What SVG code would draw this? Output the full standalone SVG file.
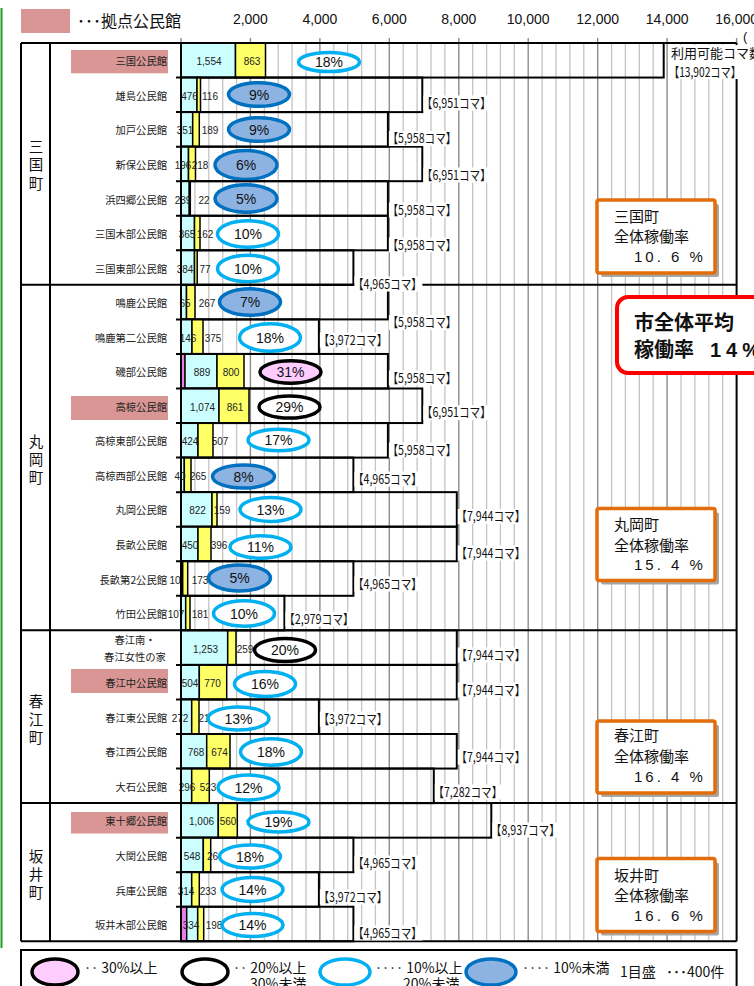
<svg xmlns="http://www.w3.org/2000/svg" width="754" height="986" viewBox="0 0 754 986">
<style>
.jp{font-family:"Noto Sans CJK JP","Liberation Sans",sans-serif;fill:#111}
.num{font-family:"Liberation Sans","Noto Sans CJK JP",sans-serif;fill:#111}
.g1{stroke:#c4c4c4;stroke-width:1.3;fill:none}
.g2{stroke:#8c8c8c;stroke-width:1.4;fill:none}
.cy{fill:#ccffff;stroke:#000;stroke-width:1.5}
.ye{fill:#ffff66;stroke:#000;stroke-width:1.5}
.pk{fill:#e87ee8;stroke:#000;stroke-width:1}
.bx{fill:none;stroke:#000;stroke-width:2}
.ln{fill:none;stroke:#000;stroke-width:2}
.eL{fill:#fff;stroke:#00b0f0;stroke-width:3.5}
.eD{fill:#8db3e2;stroke:#0070c0;stroke-width:3.5}
.eB{fill:#fff;stroke:#000;stroke-width:3.5}
.eP{fill:#ffccff;stroke:#000;stroke-width:3.5}
.v{font-family:"Liberation Sans",sans-serif;font-size:10px;text-anchor:middle;fill:#222}
.p{font-family:"Liberation Sans",sans-serif;font-size:14px;text-anchor:middle;fill:#111}
.n{font-family:"Noto Sans CJK JP",sans-serif;font-size:10.3px;text-anchor:end;fill:#222}
.cap{font-family:"Noto Sans CJK JP",sans-serif;font-size:13px;fill:#111}
.cbg{fill:#fff}
.ax{font-family:"Liberation Sans",sans-serif;font-size:14px;text-anchor:middle;fill:#111}
.town{font-family:"Noto Sans CJK JP",sans-serif;font-size:14.5px;text-anchor:middle;fill:#111}
.hub{fill:#d99694}
.sb{fill:#fff;stroke:#e46c0a;stroke-width:3.5}
.sh{fill:#a6a6a6}
.st{font-family:"Noto Sans CJK JP",sans-serif;font-size:15px;fill:#111}
.sp{font-family:"Liberation Sans",sans-serif;font-size:15px;letter-spacing:3px;fill:#111}
.lg{font-family:"Noto Sans CJK JP",sans-serif;font-size:14px;fill:#111}
</style>
<rect width="754" height="986" fill="#fff"/>
<line x1="1.5" y1="8" x2="1.5" y2="948" stroke="#1e9e1e" stroke-width="2"/>

<g id="legend-top">
<rect class="hub" x="21" y="9" width="49" height="24"/>
<text class="jp" x="77" y="27" font-size="16">･･･拠点公民館</text>
</g>

<g id="axis-labels">
<text class="ax" x="250.4" y="24">2,000</text>
<text class="ax" x="319.9" y="24">4,000</text>
<text class="ax" x="389.3" y="24">6,000</text>
<text class="ax" x="458.8" y="24">8,000</text>
<text class="ax" x="528.2" y="24">10,000</text>
<text class="ax" x="597.7" y="24">12,000</text>
<text class="ax" x="667.1" y="24">14,000</text>
<text class="ax" x="736.6" y="24">16,000</text>
<text class="num" x="743" y="41" font-size="13">(</text>
</g>

<g id="grid">
<path class="g1" d="M194.9 43V941M208.8 43V941M222.7 43V941M236.6 43V941M264.3 43V941M278.2 43V941M292.1 43V941M306 43V941M333.8 43V941M347.7 43V941M361.6 43V941M375.4 43V941M403.2 43V941M417.1 43V941M431 43V941M444.9 43V941M472.7 43V941M486.6 43V941M500.4 43V941M514.3 43V941M542.1 43V941M556 43V941M569.9 43V941M583.8 43V941M611.6 43V941M625.4 43V941M639.3 43V941M653.2 43V941M681 43V941M694.9 43V941M708.8 43V941M722.7 43V941"/>
<path class="g2" d="M250.4 38V941M319.9 38V941M389.3 38V941M458.8 38V941M528.2 38V941M597.7 38V941M667.1 38V941M736.6 38V43M181 38V43"/>
<path class="ln" stroke-width="1.5" d="M176 77.55H181M176 112.1H181M176 146.65H181M176 181.2H181M176 215.75H181M176 250.3H181M176 319.4H181M176 353.95H181M176 388.5H181M176 423.05H181M176 457.6H181M176 492.15H181M176 526.7H181M176 561.25H181M176 595.8H181M176 664.9H181M176 699.45H181M176 734H181M176 768.55H181M176 837.65H181M176 872.2H181M176 906.75H181"/>
</g>

<g id="row-0">
<rect class="cy" x="181" y="43" width="54.5" height="34.55"/>
<rect class="ye" x="235.5" y="43" width="30" height="34.55"/>
<rect class="bx" x="181" y="43" width="482.7" height="34.55"/>
<text class="v" x="209" y="65.3">1,554</text><text class="v" x="252" y="65.3">863</text>
<ellipse class="eL" cx="329" cy="62" rx="30.5" ry="9.6"/><text class="p" x="329" y="67">18%</text>
</g>
<g id="row-1">
<rect class="cy" x="181" y="77.55" width="16" height="34.55"/>
<rect class="ye" x="197" y="77.55" width="3.5" height="34.55"/>
<rect class="bx" x="181" y="77.55" width="241.3" height="34.55"/>
<text class="v" x="189.5" y="99.8">476</text><text class="v" x="210" y="99.8">116</text>
<ellipse class="eD" cx="259" cy="94.5" rx="30.5" ry="11.8"/><text class="p" x="259" y="99.5">9%</text>
</g>
<g id="row-2">
<rect class="cy" x="181" y="112.1" width="11.7" height="34.55"/>
<rect class="ye" x="192.7" y="112.1" width="6.6" height="34.55"/>
<rect class="bx" x="181" y="112.1" width="206.9" height="34.55"/>
<text class="v" x="185" y="134.4">351</text><text class="v" x="210" y="134.4">189</text>
<ellipse class="eD" cx="259" cy="129.5" rx="30.5" ry="11.8"/><text class="p" x="259" y="134.5">9%</text>
</g>
<g id="row-3">
<rect class="cy" x="181" y="146.65" width="7.5" height="34.55"/>
<rect class="ye" x="188.5" y="146.65" width="7" height="34.55"/>
<rect class="bx" x="181" y="146.65" width="241.3" height="34.55"/>
<text class="v" x="183" y="168.9">196</text><text class="v" x="200" y="168.9">218</text>
<ellipse class="eD" cx="246" cy="165" rx="31" ry="14.5"/><text class="p" x="246" y="170">6%</text>
</g>
<g id="row-4">
<rect class="cy" x="181" y="181.2" width="8.3" height="34.55"/>
<rect class="ye" x="189.3" y="181.2" width="1" height="34.55"/>
<rect class="bx" x="181" y="181.2" width="206.9" height="34.55"/>
<text class="v" x="183" y="203.5">239</text><text class="v" x="204" y="203.5">22</text>
<ellipse class="eD" cx="246" cy="198.5" rx="31" ry="13.7"/><text class="p" x="246" y="203.5">5%</text>
</g>
<g id="row-5">
<rect class="cy" x="181" y="215.75" width="13.5" height="34.55"/>
<rect class="ye" x="194.5" y="215.75" width="5.5" height="34.55"/>
<rect class="bx" x="181" y="215.75" width="206.9" height="34.55"/>
<text class="v" x="187" y="238">365</text><text class="v" x="205" y="238">162</text>
<ellipse class="eL" cx="248" cy="234" rx="30.5" ry="13.2"/><text class="p" x="248" y="239">10%</text>
</g>
<g id="row-6">
<rect class="cy" x="181" y="250.3" width="13.5" height="34.55"/>
<rect class="ye" x="194.5" y="250.3" width="2.7" height="34.55"/>
<rect class="bx" x="181" y="250.3" width="172.4" height="34.55"/>
<text class="v" x="185" y="272.6">384</text><text class="v" x="205" y="272.6">77</text>
<ellipse class="eL" cx="248" cy="268.5" rx="30.5" ry="13.2"/><text class="p" x="248" y="273.5">10%</text>
</g>
<g id="row-7">
<rect class="cy" x="181" y="284.85" width="5.5" height="34.55"/>
<rect class="ye" x="186.5" y="284.85" width="8.5" height="34.55"/>
<rect class="bx" x="181" y="284.85" width="206.9" height="34.55"/>
<text class="v" x="185" y="307.1">65</text><text class="v" x="207" y="307.1">267</text>
<ellipse class="eD" cx="250" cy="302" rx="30.5" ry="13.2"/><text class="p" x="250" y="307">7%</text>
</g>
<g id="row-8">
<rect class="cy" x="181" y="319.4" width="11" height="34.55"/>
<rect class="ye" x="192" y="319.4" width="11" height="34.55"/>
<rect class="bx" x="181" y="319.4" width="137.9" height="34.55"/>
<text class="v" x="188" y="341.7">146</text><text class="v" x="213" y="341.7">375</text>
<ellipse class="eL" cx="270" cy="337.5" rx="30.5" ry="13.7"/><text class="p" x="270" y="342.5">18%</text>
</g>
<g id="row-9">
<rect class="pk" x="181" y="353.95" width="4" height="34.55"/>
<rect class="cy" x="185" y="353.95" width="32" height="34.55"/>
<rect class="ye" x="217" y="353.95" width="27" height="34.55"/>
<rect class="bx" x="181" y="353.95" width="206.9" height="34.55"/>
<text class="v" x="202" y="376.2">889</text><text class="v" x="231" y="376.2">800</text>
<ellipse class="eP" cx="290.5" cy="372" rx="30.5" ry="11.2"/><text class="p" x="290.5" y="377">31%</text>
</g>
<g id="row-10">
<rect class="cy" x="181" y="388.5" width="38" height="34.55"/>
<rect class="ye" x="219" y="388.5" width="30" height="34.55"/>
<rect class="bx" x="181" y="388.5" width="241.3" height="34.55"/>
<text class="v" x="202.5" y="410.8">1,074</text><text class="v" x="235" y="410.8">861</text>
<ellipse class="eB" cx="289.5" cy="407" rx="30.5" ry="11.1"/><text class="p" x="289.5" y="412">29%</text>
</g>
<g id="row-11">
<rect class="cy" x="181" y="423.05" width="17" height="34.55"/>
<rect class="ye" x="198" y="423.05" width="15" height="34.55"/>
<rect class="bx" x="181" y="423.05" width="206.9" height="34.55"/>
<text class="v" x="190" y="445.3">424</text><text class="v" x="220" y="445.3">507</text>
<ellipse class="eL" cx="278.5" cy="440" rx="30.5" ry="10.8"/><text class="p" x="278.5" y="445">17%</text>
</g>
<g id="row-12">
<rect class="cy" x="181" y="457.6" width="3.3" height="34.55"/>
<rect class="ye" x="184.3" y="457.6" width="6.7" height="34.55"/>
<rect class="bx" x="181" y="457.6" width="172.4" height="34.55"/>
<text class="v" x="180" y="479.9">40</text><text class="v" x="198" y="479.9">265</text>
<ellipse class="eD" cx="243.5" cy="476.5" rx="31" ry="11.6"/><text class="p" x="243.5" y="481.5">8%</text>
</g>
<g id="row-13">
<rect class="cy" x="181" y="492.15" width="31" height="34.55"/>
<rect class="ye" x="212" y="492.15" width="5" height="34.55"/>
<rect class="bx" x="181" y="492.15" width="275.8" height="34.55"/>
<text class="v" x="197.5" y="514.4">822</text><text class="v" x="222" y="514.4">159</text>
<ellipse class="eL" cx="270.5" cy="509.5" rx="30.5" ry="11.9"/><text class="p" x="270.5" y="514.5">13%</text>
</g>
<g id="row-14">
<rect class="cy" x="181" y="526.7" width="17" height="34.55"/>
<rect class="ye" x="198" y="526.7" width="13" height="34.55"/>
<rect class="bx" x="181" y="526.7" width="275.8" height="34.55"/>
<text class="v" x="190" y="549">450</text><text class="v" x="219" y="549">396</text>
<ellipse class="eL" cx="260.5" cy="547" rx="30.5" ry="11.2"/><text class="p" x="260.5" y="552">11%</text>
</g>
<g id="row-15">
<rect class="cy" x="181" y="561.25" width="1.7" height="34.55"/>
<rect class="ye" x="182.7" y="561.25" width="5" height="34.55"/>
<rect class="bx" x="181" y="561.25" width="172.4" height="34.55"/>
<text class="v" x="175" y="583.5">10</text><text class="v" x="200" y="583.5">173</text>
<ellipse class="eD" cx="239.5" cy="578" rx="31" ry="12.9"/><text class="p" x="239.5" y="583">5%</text>
</g>
<g id="row-16">
<rect class="cy" x="181" y="595.8" width="4.7" height="34.55"/>
<rect class="ye" x="185.7" y="595.8" width="4.3" height="34.55"/>
<rect class="bx" x="181" y="595.8" width="103.4" height="34.55"/>
<text class="v" x="176" y="618.1">107</text><text class="v" x="200" y="618.1">181</text>
<ellipse class="eL" cx="244" cy="613.5" rx="30.5" ry="12.7"/><text class="p" x="244" y="618.5">10%</text>
</g>
<g id="row-17">
<rect class="cy" x="181" y="630.35" width="46.7" height="34.55"/>
<rect class="ye" x="227.7" y="630.35" width="8.3" height="34.55"/>
<rect class="bx" x="181" y="630.35" width="275.8" height="34.55"/>
<text class="v" x="205.5" y="652.6">1,253</text><text class="v" x="245" y="652.6">259</text>
<ellipse class="eB" cx="285" cy="650" rx="30.5" ry="11.6"/><text class="p" x="285" y="655">20%</text>
</g>
<g id="row-18">
<rect class="cy" x="181" y="664.9" width="18.3" height="34.55"/>
<rect class="ye" x="199.3" y="664.9" width="27.4" height="34.55"/>
<rect class="bx" x="181" y="664.9" width="275.8" height="34.55"/>
<text class="v" x="190" y="687.2">504</text><text class="v" x="212.5" y="687.2">770</text>
<ellipse class="eL" cx="265" cy="684" rx="30.5" ry="12.4"/><text class="p" x="265" y="689">16%</text>
</g>
<g id="row-19">
<rect class="cy" x="181" y="699.45" width="10.7" height="34.55"/>
<rect class="ye" x="191.7" y="699.45" width="7.3" height="34.55"/>
<rect class="bx" x="181" y="699.45" width="137.9" height="34.55"/>
<text class="v" x="180" y="721.7">272</text><text class="v" x="198.5" y="721.7" style="text-anchor:start">21</text>
<ellipse class="eL" cx="238.5" cy="718.5" rx="30.5" ry="11.6"/><text class="p" x="238.5" y="723.5">13%</text>
</g>
<g id="row-20">
<rect class="cy" x="181" y="734" width="25.7" height="34.55"/>
<rect class="ye" x="206.7" y="734" width="23.3" height="34.55"/>
<rect class="bx" x="181" y="734" width="275.8" height="34.55"/>
<text class="v" x="196" y="756.3">768</text><text class="v" x="219.5" y="756.3">674</text>
<ellipse class="eL" cx="271" cy="752" rx="30.5" ry="13.2"/><text class="p" x="271" y="757">18%</text>
</g>
<g id="row-21">
<rect class="cy" x="181" y="768.55" width="10.7" height="34.55"/>
<rect class="ye" x="191.7" y="768.55" width="17.6" height="34.55"/>
<rect class="bx" x="181" y="768.55" width="252.8" height="34.55"/>
<text class="v" x="187" y="790.8">296</text><text class="v" x="208" y="790.8">523</text>
<ellipse class="eL" cx="248.5" cy="787.5" rx="30.5" ry="12.4"/><text class="p" x="248.5" y="792.5">12%</text>
</g>
<g id="row-22">
<rect class="cy" x="181" y="803.1" width="37.3" height="34.55"/>
<rect class="ye" x="218.3" y="803.1" width="19" height="34.55"/>
<rect class="bx" x="181" y="803.1" width="310.3" height="34.55"/>
<text class="v" x="201.5" y="825.4">1,006</text><text class="v" x="228" y="825.4">560</text>
<ellipse class="eL" cx="278.5" cy="822" rx="30.5" ry="9.9"/><text class="p" x="278.5" y="827">19%</text>
</g>
<g id="row-23">
<rect class="cy" x="181" y="837.65" width="22.3" height="34.55"/>
<rect class="ye" x="203.3" y="837.65" width="7.4" height="34.55"/>
<rect class="bx" x="181" y="837.65" width="172.4" height="34.55"/>
<text class="v" x="192" y="859.9">548</text><text class="v" x="207" y="859.9" style="text-anchor:start">26</text>
<ellipse class="eL" cx="250" cy="856.5" rx="30.5" ry="11.6"/><text class="p" x="250" y="861.5">18%</text>
</g>
<g id="row-24">
<rect class="cy" x="181" y="872.2" width="10.7" height="34.55"/>
<rect class="ye" x="191.7" y="872.2" width="7.6" height="34.55"/>
<rect class="bx" x="181" y="872.2" width="137.9" height="34.55"/>
<text class="v" x="186" y="894.5">314</text><text class="v" x="208" y="894.5">233</text>
<ellipse class="eL" cx="252.5" cy="889.5" rx="30.5" ry="11.9"/><text class="p" x="252.5" y="894.5">14%</text>
</g>
<g id="row-25">
<rect class="pk" x="181" y="906.75" width="5.7" height="34.55"/>
<rect class="cy" x="186.7" y="906.75" width="11" height="34.55"/>
<rect class="ye" x="197.7" y="906.75" width="6" height="34.55"/>
<rect class="bx" x="181" y="906.75" width="172.4" height="34.55"/>
<text class="v" x="191" y="929">334</text><text class="v" x="214" y="929">198</text>
<ellipse class="eL" cx="252.5" cy="925" rx="30.5" ry="11.6"/><text class="p" x="252.5" y="930">14%</text>
</g>

<g id="frame">
<path class="ln" d="M21 43H736.6M21 284.85H736.6M21 630.35H736.6M21 803.1H736.6M21 941.3H736.6M21 43V941.3M50 43V941.3M181 43V941.3M736.6 43V941.3"/>
</g>

<g id="capacity-labels">
<rect class="cbg" x="669" y="45" width="90" height="34"/>
<text class="cap" x="671" y="58">利用可能コマ数</text>
<text class="cap" x="669" y="76.5" textLength="72" lengthAdjust="spacingAndGlyphs">【13,902コマ】</text>
<rect class="cbg" x="423.3" y="95.5" width="68" height="15"/><text class="cap" x="421.8" y="107.5" textLength="69" lengthAdjust="spacingAndGlyphs">【6,951コマ】</text>
<rect class="cbg" x="388.9" y="131" width="68" height="15"/><text class="cap" x="387.4" y="143" textLength="69" lengthAdjust="spacingAndGlyphs">【5,958コマ】</text>
<rect class="cbg" x="423.3" y="167.5" width="68" height="15"/><text class="cap" x="421.8" y="179.5" textLength="69" lengthAdjust="spacingAndGlyphs">【6,951コマ】</text>
<rect class="cbg" x="388.9" y="202.5" width="68" height="15"/><text class="cap" x="387.4" y="214.5" textLength="69" lengthAdjust="spacingAndGlyphs">【5,958コマ】</text>
<rect class="cbg" x="388.9" y="237.5" width="68" height="15"/><text class="cap" x="387.4" y="249.5" textLength="69" lengthAdjust="spacingAndGlyphs">【5,958コマ】</text>
<rect class="cbg" x="354.4" y="276.5" width="68" height="15"/><text class="cap" x="352.9" y="288.5" textLength="69" lengthAdjust="spacingAndGlyphs">【4,965コマ】</text>
<rect class="cbg" x="388.9" y="315.2" width="68" height="15"/><text class="cap" x="387.4" y="327.2" textLength="69" lengthAdjust="spacingAndGlyphs">【5,958コマ】</text>
<rect class="cbg" x="319.9" y="332.5" width="68" height="15"/><text class="cap" x="318.4" y="344.5" textLength="69" lengthAdjust="spacingAndGlyphs">【3,972コマ】</text>
<rect class="cbg" x="388.9" y="370.5" width="68" height="15"/><text class="cap" x="387.4" y="382.5" textLength="69" lengthAdjust="spacingAndGlyphs">【5,958コマ】</text>
<rect class="cbg" x="423.3" y="405.2" width="68" height="15"/><text class="cap" x="421.8" y="417.2" textLength="69" lengthAdjust="spacingAndGlyphs">【6,951コマ】</text>
<rect class="cbg" x="388.9" y="442.5" width="68" height="15"/><text class="cap" x="387.4" y="454.5" textLength="69" lengthAdjust="spacingAndGlyphs">【5,958コマ】</text>
<rect class="cbg" x="354.4" y="471.5" width="68" height="15"/><text class="cap" x="352.9" y="483.5" textLength="69" lengthAdjust="spacingAndGlyphs">【4,965コマ】</text>
<rect class="cbg" x="457.8" y="509" width="68" height="15"/><text class="cap" x="456.3" y="521" textLength="69" lengthAdjust="spacingAndGlyphs">【7,944コマ】</text>
<rect class="cbg" x="457.8" y="545.5" width="68" height="15"/><text class="cap" x="456.3" y="557.5" textLength="69" lengthAdjust="spacingAndGlyphs">【7,944コマ】</text>
<rect class="cbg" x="354.4" y="576.5" width="68" height="15"/><text class="cap" x="352.9" y="588.5" textLength="69" lengthAdjust="spacingAndGlyphs">【4,965コマ】</text>
<rect class="cbg" x="285.4" y="611.5" width="69" height="15"/><text class="cap" x="283.9" y="623.5" textLength="70" lengthAdjust="spacingAndGlyphs">【2,979コマ】</text>
<rect class="cbg" x="457.8" y="647.5" width="68" height="15"/><text class="cap" x="456.3" y="659.5" textLength="69" lengthAdjust="spacingAndGlyphs">【7,944コマ】</text>
<rect class="cbg" x="457.8" y="682.5" width="68" height="15"/><text class="cap" x="456.3" y="694.5" textLength="69" lengthAdjust="spacingAndGlyphs">【7,944コマ】</text>
<rect class="cbg" x="319.9" y="711.5" width="68" height="15"/><text class="cap" x="318.4" y="723.5" textLength="69" lengthAdjust="spacingAndGlyphs">【3,972コマ】</text>
<rect class="cbg" x="457.8" y="749.5" width="68" height="15"/><text class="cap" x="456.3" y="761.5" textLength="69" lengthAdjust="spacingAndGlyphs">【7,944コマ】</text>
<rect class="cbg" x="434.8" y="784.5" width="68" height="15"/><text class="cap" x="433.3" y="796.5" textLength="69" lengthAdjust="spacingAndGlyphs">【7,282コマ】</text>
<rect class="cbg" x="492.3" y="822.5" width="68" height="15"/><text class="cap" x="490.8" y="834.5" textLength="69" lengthAdjust="spacingAndGlyphs">【8,937コマ】</text>
<rect class="cbg" x="354.4" y="855.5" width="68" height="15"/><text class="cap" x="352.9" y="867.5" textLength="69" lengthAdjust="spacingAndGlyphs">【4,965コマ】</text>
<rect class="cbg" x="319.9" y="889.5" width="68" height="15"/><text class="cap" x="318.4" y="901.5" textLength="69" lengthAdjust="spacingAndGlyphs">【3,972コマ】</text>
<rect class="cbg" x="354.4" y="925.5" width="68" height="15"/><text class="cap" x="352.9" y="937.5" textLength="69" lengthAdjust="spacingAndGlyphs">【4,965コマ】</text>
</g>

<g id="names">
<rect class="hub" x="71" y="50" width="97" height="23.3"/>
<rect class="hub" x="71" y="396" width="97" height="24"/>
<rect class="hub" x="71" y="669" width="97" height="24"/>
<rect class="hub" x="71" y="812" width="97" height="21.5"/>
<text class="n" x="167" y="65.3">三国公民館</text>
<text class="n" x="167" y="99.8">雄島公民館</text>
<text class="n" x="167" y="134.4">加戸公民館</text>
<text class="n" x="167" y="168.9">新保公民館</text>
<text class="n" x="167" y="203.5">浜四郷公民館</text>
<text class="n" x="167" y="238">三国木部公民館</text>
<text class="n" x="167" y="272.6">三国東部公民館</text>
<text class="n" x="167" y="307.1">鳴鹿公民館</text>
<text class="n" x="167" y="341.7">鳴鹿第二公民館</text>
<text class="n" x="167" y="376.2">磯部公民館</text>
<text class="n" x="167" y="410.8">高椋公民館</text>
<text class="n" x="167" y="445.3">高椋東部公民館</text>
<text class="n" x="167" y="479.9">高椋西部公民館</text>
<text class="n" x="167" y="514.4">丸岡公民館</text>
<text class="n" x="167" y="549">長畝公民館</text>
<text class="n" x="167" y="583.5">長畝第2公民館</text>
<text class="n" x="167" y="618.1">竹田公民館</text>
<text class="n" x="135" y="643.6" style="text-anchor:middle">春江南・</text>
<text class="n" x="135" y="661" style="text-anchor:middle">春江女性の家</text>
<text class="n" x="167" y="687.2">春江中公民館</text>
<text class="n" x="167" y="721.7">春江東公民館</text>
<text class="n" x="167" y="756.3">春江西公民館</text>
<text class="n" x="167" y="790.8">大石公民館</text>
<text class="n" x="167" y="825.4">東十郷公民館</text>
<text class="n" x="167" y="859.9">大関公民館</text>
<text class="n" x="167" y="894.5">兵庫公民館</text>
<text class="n" x="167" y="929">坂井木部公民館</text>
</g>

<g id="towns">
<text class="town" x="36" y="151.5">三</text><text class="town" x="36" y="170">国</text><text class="town" x="36" y="188.5">町</text>
<text class="town" x="36" y="446.5">丸</text><text class="town" x="36" y="464.5">岡</text><text class="town" x="36" y="482.5">町</text>
<text class="town" x="36" y="707">春</text><text class="town" x="36" y="725">江</text><text class="town" x="36" y="743">町</text>
<text class="town" x="36" y="862">坂</text><text class="town" x="36" y="880">井</text><text class="town" x="36" y="898">町</text>
</g>

<g id="summary-mikuni">
<rect class="sh" x="601" y="204" width="118" height="73" rx="2"/>
<rect class="sb" x="597" y="200" width="118" height="73" rx="2"/>
<text class="st" x="614" y="222">三国町</text>
<text class="st" x="614" y="242">全体稼働率</text>
<text class="sp" x="634" y="262">10. 6 %</text>
</g>
<g id="summary-maruoka">
<rect class="sh" x="601" y="512.5" width="118" height="72" rx="2"/>
<rect class="sb" x="597" y="508.5" width="118" height="72" rx="2"/>
<text class="st" x="614" y="529.5">丸岡町</text>
<text class="st" x="614" y="550.5">全体稼働率</text>
<text class="sp" x="634" y="569.5">15. 4 %</text>
</g>
<g id="summary-harue">
<rect class="sh" x="601" y="725" width="118" height="72" rx="2"/>
<rect class="sb" x="597" y="721" width="118" height="72" rx="2"/>
<text class="st" x="614" y="740.5">春江町</text>
<text class="st" x="614" y="761.5">全体稼働率</text>
<text class="sp" x="634" y="781.5">16. 4 %</text>
</g>
<g id="summary-sakai">
<rect class="sh" x="601" y="862.5" width="118" height="73" rx="2"/>
<rect class="sb" x="597" y="858.5" width="118" height="73" rx="2"/>
<text class="st" x="614" y="880.5">坂井町</text>
<text class="st" x="614" y="900.5">全体稼働率</text>
<text class="sp" x="634" y="920.5">16. 6 %</text>
</g>

<g id="city-average">
<rect x="617" y="297" width="170" height="76" rx="11" fill="#fff" stroke="#ff0000" stroke-width="4"/>
<text class="jp" x="634" y="330" font-size="20" font-weight="bold">市全体平均</text>
<text class="jp" x="634" y="357" font-size="20" font-weight="bold">稼働率 <tspan x="710" font-family="Liberation Sans, sans-serif" letter-spacing="5">14%</tspan></text>
</g>

<g id="legend-bottom">
<rect x="21" y="950" width="715.6" height="60" fill="#fff" stroke="#000" stroke-width="2"/>
<ellipse class="eP" cx="55" cy="972" rx="23" ry="13"/>
<text class="lg" x="84" y="973">‥ 30%以上</text>
<ellipse class="eB" cx="205" cy="972" rx="23" ry="13"/>
<text class="lg" x="233" y="973">‥ 20%以上</text>
<text class="lg" x="250" y="989">30%未満</text>
<ellipse class="eL" cx="345" cy="972" rx="25" ry="13"/>
<text class="lg" x="375" y="973">‥‥ 10%以上</text>
<text class="lg" x="403" y="989">20%未満</text>
<ellipse class="eD" cx="491" cy="972" rx="25" ry="13"/>
<text class="lg" x="522" y="973">‥‥ 10%未満</text>
<text class="lg" x="620" y="977">1目盛</text>
<text class="lg" x="666" y="977">･･･400件</text>
</g>
</svg>
